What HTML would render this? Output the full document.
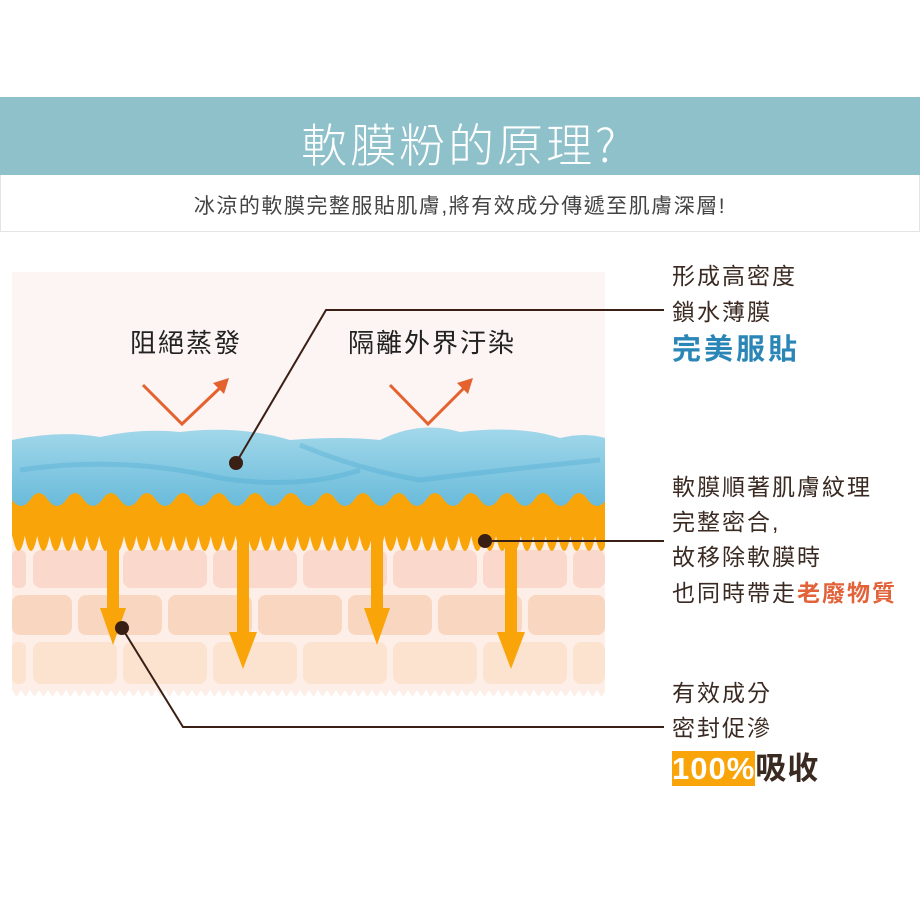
<!DOCTYPE html>
<html><head><meta charset="utf-8"><style>
html,body{margin:0;padding:0;background:#fff;}
body{width:920px;height:920px;position:relative;overflow:hidden;font-family:"Liberation Sans","Noto Sans CJK TC",sans-serif;}
.t{position:absolute;left:672px;font-size:23px;color:#3a2a22;letter-spacing:2px;line-height:1;white-space:nowrap;}
</style></head><body>
<div style="position:absolute;left:0;top:97px;width:920px;height:78px;background:#8fc1cb;"></div>
<div style="position:absolute;left:0;top:110px;width:920px;text-align:center;font-size:46px;color:#fff;letter-spacing:3px;font-family:'Noto Sans CJK TC',sans-serif;font-weight:300;">軟膜粉的原理?</div>
<div style="position:absolute;left:0;top:175px;width:918px;height:56px;border:1px solid #e4e4e4;border-top:none;"></div>
<div style="position:absolute;left:0;top:190px;width:920px;text-align:center;font-size:21px;letter-spacing:1.5px;color:#444;">冰涼的軟膜完整服貼肌膚,將有效成分傳遞至肌膚深層!</div>

<svg style="position:absolute;left:0;top:0" width="920" height="920">
<defs>
<linearGradient id="bl" x1="0" y1="0" x2="0" y2="1"><stop offset="0" stop-color="#a3d8ea"/><stop offset="1" stop-color="#5fb6d8"/></linearGradient>
<clipPath id="cp"><rect x="12" y="272" width="593" height="430"/></clipPath>
</defs>
<rect x="12" y="272" width="593" height="430" fill="#fdf4f4"/>
<g clip-path="url(#cp)">
<rect x="12" y="535" width="593" height="165" fill="#fdeee8"/>
<g fill="#fbd8cc">
<rect x="12" y="550" width="14" height="38" rx="6"/><rect x="33" y="550" width="84" height="38" rx="8"/><rect x="123" y="550" width="84" height="38" rx="8"/><rect x="213" y="550" width="84" height="38" rx="8"/><rect x="303" y="550" width="84" height="38" rx="8"/><rect x="393" y="550" width="84" height="38" rx="8"/><rect x="483" y="550" width="84" height="38" rx="8"/><rect x="573" y="550" width="32" height="38" rx="8"/>
</g>
<g fill="#f9d6c0">
<rect x="12" y="595" width="60" height="40" rx="8"/><rect x="78" y="595" width="84" height="40" rx="8"/><rect x="168" y="595" width="84" height="40" rx="8"/><rect x="258" y="595" width="84" height="40" rx="8"/><rect x="348" y="595" width="84" height="40" rx="8"/><rect x="438" y="595" width="84" height="40" rx="8"/><rect x="528" y="595" width="77" height="40" rx="8"/>
</g>
<g fill="#fce3d0">
<rect x="12" y="642" width="14" height="42" rx="6"/><rect x="33" y="642" width="84" height="42" rx="8"/><rect x="123" y="642" width="84" height="42" rx="8"/><rect x="213" y="642" width="84" height="42" rx="8"/><rect x="303" y="642" width="84" height="42" rx="8"/><rect x="393" y="642" width="84" height="42" rx="8"/><rect x="483" y="642" width="84" height="42" rx="8"/><rect x="573" y="642" width="32" height="42" rx="8"/>
</g>
<path d="M12 690 L605 690 L605 702 L12 702Z" fill="#fff"/>
<path id="zz" d="" fill="#fdeee8"/>
<path d="M12 440 Q60 430 100 437 Q140 428 180 432 Q240 425 290 440 Q340 436 380 440 Q420 420 460 432 Q520 425 560 438 Q585 432 605 438 L605 520 L12 520Z" fill="url(#bl)"/>
<path d="M20 470 Q120 455 220 478 Q300 490 360 470 M300 445 Q360 470 420 480 Q500 470 600 460" stroke="#4aa8d0" stroke-width="5" fill="none" opacity=".35"/>
<path id="ob" fill="#f9a50a" d=""/>
</g>
<g fill="#f9a50a">
<rect x="107" y="530" width="12" height="80"/><path d="M100 608 L126 608 L113 645Z"/>
<rect x="237" y="530" width="12" height="105"/><path d="M229 632 L257 632 L243 669Z"/>
<rect x="371" y="530" width="12" height="80"/><path d="M364 608 L390 608 L377 645Z"/>
<rect x="505" y="530" width="12" height="105"/><path d="M497 632 L525 632 L511 669Z"/>
</g>
<g stroke="#e4622e" stroke-width="3" fill="none">
<path d="M143 385 L182 424 L222 386"/><path d="M390 385 L428 424 L466 386"/>
</g>
<g fill="#e4622e"><path d="M229 378 L213 383 L224 394Z"/><path d="M473 378 L457 383 L468 394Z"/></g>
<g stroke="#3a1f14" stroke-width="2" fill="none">
<path d="M236 463 L326 310 L664 310"/><path d="M485 541 L664 541"/><path d="M122 628 L183 727 L664 727"/>
</g>
<g fill="#3a1f14"><circle cx="236" cy="463" r="7"/><circle cx="485" cy="541" r="7"/><circle cx="122" cy="628" r="7"/></g>
<text x="130" y="352" font-size="26" fill="#222" letter-spacing="2" font-family="Liberation Sans,Noto Sans CJK TC,sans-serif">阻絕蒸發</text>
<text x="348" y="352" font-size="26" fill="#222" letter-spacing="2" font-family="Liberation Sans,Noto Sans CJK TC,sans-serif">隔離外界汙染</text>
</svg>
<script>
(function(){
var d="M12 500";
for(var x=12;x<620;x+=36){d+=" Q"+(x+9)+" 512 "+(x+18)+" 500 Q"+(x+27)+" 486 "+(x+36)+" 500";}
d+=" L620 535 L620 536";
var p=12.4;
for(var x=620;x>0;x-=p){d+=" L"+x+" 536 Q"+(x-p/2)+" 566 "+(x-p)+" 536";}
d+=" Z";
document.getElementById("ob").setAttribute("d",d);
var z="M12 690";
for(var x=12;x<605;x+=9){z+=" L"+(x+4.5)+" 697 L"+(x+9)+" 690";}
z+=" L605 686 L12 686Z";
document.getElementById("zz").setAttribute("d",z);
})();
</script>
<div class="t" style="top:265px;">形成高密度</div>
<div class="t" style="top:301px;">鎖水薄膜</div>
<div class="t" style="top:336px;font-size:29px;font-weight:bold;color:#2a86b6;letter-spacing:3px;">完美服貼</div>
<div class="t" style="top:476px;">軟膜順著肌膚紋理</div>
<div class="t" style="top:511px;">完整密合,</div>
<div class="t" style="top:546px;">故移除軟膜時</div>
<div class="t" style="top:582px;">也同時帶走<b style="color:#e2623a">老廢物質</b></div>
<div class="t" style="top:682px;">有效成分</div>
<div class="t" style="top:717px;">密封促滲</div>
<div class="t" style="top:753px;font-size:31px;font-weight:bold;letter-spacing:1px;"><span style="background:#f9a50a;color:#fff;">100%</span>吸收</div>
</body></html>
